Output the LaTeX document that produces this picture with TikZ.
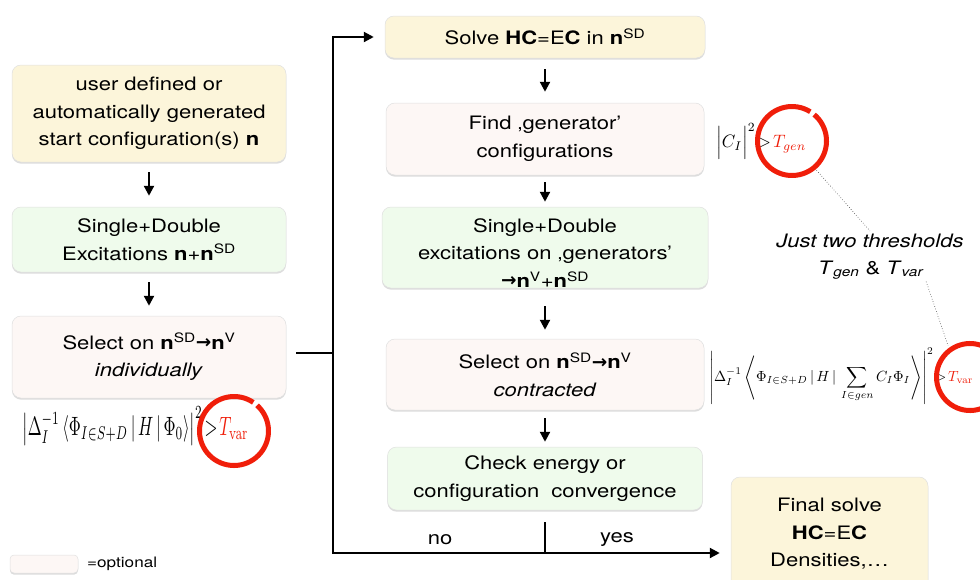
\documentclass[tikz,border=0pt]{standalone}
\usepackage[no-math]{fontspec}
\setmainfont{TeX Gyre Heros}[FakeStretch=1.19]
\newfontfamily\dvsans{DejaVu Sans}
\usepackage{amsmath}
\usepackage{graphicx}
\usetikzlibrary{arrows.meta,shadows}
\definecolor{cyel}{HTML}{FCF5DA}
\definecolor{cgrn}{HTML}{EFFBEC}
\definecolor{cpnk}{HTML}{FDF7F5}
\definecolor{cred}{HTML}{F01E0A}
\newcommand{\fsz}{\fontsize{18.5}{27.5}\selectfont}
\newcommand{\nSD}{\textbf{n}\textsuperscript{SD}}
\newcommand{\nV}{\textbf{n}\textsuperscript{V}}
\newcommand{\rarr}{{\dvsans\bfseries\raisebox{0.5pt}{→}}}
\begin{document}
\begin{tikzpicture}[x=1pt,y=-1pt,
  box/.style={rounded corners=9pt, align=center, inner sep=0pt, font=\fsz, draw=black!12, line width=0.5pt,
    drop shadow={shadow xshift=0pt,shadow yshift=-1.6pt,opacity=0.3,fill=black!45}},
  yel/.style={box, fill=cyel}, grn/.style={box, fill=cgrn}, pnk/.style={box, fill=cpnk},
  arr/.style={line width=2.2pt, -{Triangle[width=10pt,length=10pt]}},
  ln/.style={line width=2.2pt},
  redc/.style={draw=cred, line width=5pt},
  dotl/.style={draw=black!75, line width=0.6pt, dotted},
  lbl/.style={font=\fsz, inner sep=0pt}
]
\useasboundingbox[fill=white] (0,0) rectangle (980,579);

% left column
\node[yel, minimum width=274pt, minimum height=97pt] (start) at (149,113.5) {user defined or\\automatically generated\\start configuration(s) \textbf{n}};
\node[grn, minimum width=274pt, minimum height=65pt] (sd1) at (149,239.5) {Single+Double\\Excitations \textbf{n}+\nSD};
\node[pnk, minimum width=274pt, minimum height=82pt] (sel1) at (149,357) {Select on \nSD\rarr\nV\\\textit{individually}};

% middle column
\node[yel, minimum width=320pt, minimum height=42pt] (solve) at (545,37) {Solve \textbf{HC}=E\textbf{C} in \nSD};
\node[pnk, minimum width=318pt, minimum height=72pt] (find) at (545,139) {Find ‚generator’\\ configurations};
\node[grn, minimum width=326pt, minimum height=81pt] (sd2) at (545,247.5) {};
\node[lbl, align=center] (sd2t) at (545,253) {Single+Double\\excitations on ‚generators’\\\rarr\nV+\nSD};
\node[pnk, minimum width=318pt, minimum height=71pt] (sel2) at (545,374.5) {Select on \nSD\rarr\nV\\\textit{contracted}};
\node[grn, minimum width=315pt, minimum height=63pt] (check) at (545,478.5) {Check energy or\\configuration\ \ convergence};
\node[yel, minimum width=197pt, minimum height=114pt] (final) at (829.5,534) {Final solve\\\textbf{HC}=E\textbf{C}\\Densities,…};

% arrows
\draw[arr, shorten <=10pt, shorten >=11pt] (start.south) -- (sd1.north);
\draw[arr, shorten <=10pt, shorten >=10pt] (sd1.south) -- (sel1.north);
\draw[arr, shorten <=11pt, shorten >=11pt] (solve.south) -- (find.north);
\draw[arr, shorten <=7pt, shorten >=5pt] (find.south) -- (sd2.north);
\draw[arr, shorten <=18pt, shorten >=9pt] (sd2.south) -- (sel2.north);
\draw[arr, shorten <=8pt, shorten >=5pt] (sel2.south) -- (check.north);

% loop
\coordinate (jn) at (333,353);
\coordinate (bm) at (545,553);
\coordinate (lb) at (333,553);
\draw[ln, shorten <=10pt] (sel1.east |- jn) -- (jn);
\draw[ln, shorten <=12pt] (check.south) -- (bm);
\draw[arr, shorten >=11pt] (bm) -- (lb) -- (lb |- solve.west) -- (solve.west);
\draw[arr, shorten >=11pt] (bm) -- (bm -| final.west);
\node[lbl] (no) at (440,540) {no};
\node[lbl] (yes) at (617,540) {yes};

% formulas
\node[anchor=west, inner sep=0pt] (f1) at (22,426) {\resizebox*{226pt}{38pt}{$\left|\Delta_I^{-1}\left\langle\Phi_{I\in S+D}\,|\,H\,|\,\Phi_0\right\rangle\right|^2\!>\!{\color{cred}T_{\mathrm{var}}}$}};
\node[anchor=west, inner sep=0pt] (f2) at (716,141) {\resizebox*{90pt}{36pt}{$\left|C_I\vphantom{\Big|}\right|^2\!>\!{\color{cred}T_{gen}}$}};
\node[anchor=west, inner sep=0pt] (f3) at (709,376) {\resizebox*{264pt}{56pt}{$\displaystyle\left|\Delta_I^{-1}\left\langle\Phi_{I\in S+D}\,|\,H\,|\,\sum_{I\in gen}C_I\Phi_I\right\rangle\right|^2\!>\!{\color{cred}T_{\mathrm{var}}}$}};

% red circles
\node[circle, minimum size=76pt, inner sep=0pt] (cv1) at (234,431) {};
\node[circle, minimum size=76pt, inner sep=0pt] (cg) at (792,141) {};
\node[circle, minimum size=76pt, inner sep=0pt] (cv2) at (970,377) {};
\draw[redc] (cv1.center) ++(56:34.5pt) arc[start angle=56, end angle=408, radius=34.5pt];
\draw[redc] (cg.center) ++(58:34.5pt) arc[start angle=58, end angle=410, radius=34.5pt];
\draw[redc] (cv2.center) ++(62:33.5pt) arc[start angle=62, end angle=414, radius=33.5pt];

% annotation
\node[font=\fsz\itshape, inner sep=3pt] (just) at (870,241) {Just two thresholds};
\node[font=\fsz, inner sep=2pt] (thr) at (871,270) {\textit{T}\textsubscript{\textit{gen}} \& \textit{T}\textsubscript{\textit{var}}};
\draw[dotl] (cg.-50) -- (just.north);
\draw[dotl] (thr.south east) -- (cv2.125);

% legend
\node[pnk, rounded corners=4pt, minimum width=68pt, minimum height=18pt] (leg) at (44,564) {};
\node[anchor=west, font=\fontsize{14.4}{17}\selectfont, inner sep=0pt] (legt) at (87,564) {=optional};
\end{tikzpicture}
\end{document}
